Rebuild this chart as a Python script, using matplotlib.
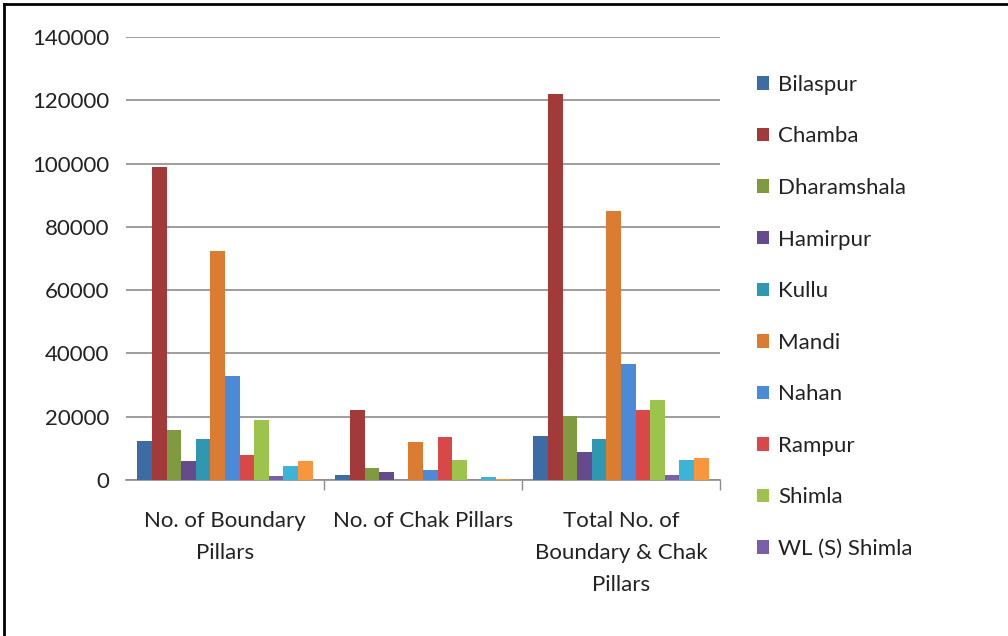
import matplotlib
matplotlib.use("Agg")
import matplotlib.pyplot as plt
import numpy as np
from matplotlib.lines import Line2D

plt.rcParams['font.family'] = ['Lato', 'DejaVu Sans']

categories = ["No. of Boundary\nPillars", "No. of Chak Pillars", "Total No. of\nBoundary & Chak\nPillars"]
circles = ["Bilaspur", "Chamba", "Dharamshala", "Hamirpur", "Kullu", "Mandi",
           "Nahan", "Rampur", "Shimla", "WL (S) Shimla", "Series 11", "Series 12"]
bilaspur = [12200, 1500, 14000]
chamba = [98800, 22200, 121900]
dharamshala = [15900, 3700, 20100]
hamirpur = [5900, 2400, 9000]
kullu = [12900, 0, 12900]
mandi = [72500, 12000, 84900]
nahan = [32900, 3300, 36600]
rampur = [8000, 13600, 22200]
shimla = [19000, 6400, 25200]
wl_s_shimla = [1400, 0, 1700]
series_11 = [4400, 1000, 6400]
series_12 = [5900, 300, 6900]
values = [bilaspur, chamba, dharamshala, hamirpur, kullu, mandi, nahan,
          rampur, shimla, wl_s_shimla, series_11, series_12]
yticks = [0, 20000, 40000, 60000, 80000, 100000, 120000, 140000]

colors = ["#3D6BA3", "#A33A3A", "#7F9A40", "#654B8D", "#2F98B0", "#DA7D32",
          "#4A8AD6", "#D84848", "#9CC44C", "#7B5EA8", "#3CB4D8", "#F7963C"]

W, H = 1008, 636
fig = plt.figure(figsize=(W / 100, H / 100), dpi=100)
ax = fig.add_axes([126 / W, (H - 480) / H, (720 - 126) / W, (480 - 37) / H])

n = len(values)
bw = 0.0737
x = np.arange(len(categories))
bars = []
for i, (vals, c) in enumerate(zip(values, colors)):
    off = (i - (n - 1) / 2) * bw
    b = ax.bar(x + off, vals, width=bw, color=c, label=circles[i], zorder=3)
    bars.append(b)

ax.set_xlim(-0.5, 2.5)
ax.set_ylim(0, 140000)
ax.set_yticks(yticks)
ax.set_yticklabels([str(v) for v in yticks], fontsize=16, color="#222222")
ax.tick_params(axis='y', length=0, pad=12)
ax.yaxis.grid(True, color="#8c8c8c", linewidth=1.2, zorder=0)
ax.set_axisbelow(True)

ax.set_xticks(x)
ax.set_xticklabels(categories, fontsize=16, color="#222222", linespacing=1.75)
ax.tick_params(axis='x', which='major', length=0, pad=22)
ax.set_xticks([0.5, 1.5, 2.5], minor=True)
ax.tick_params(axis='x', which='minor', length=7, color="#8c8c8c", width=1)

for s in ['top', 'right', 'left']:
    ax.spines[s].set_visible(False)
ax.spines['bottom'].set_color("#8c8c8c")
ax.spines['bottom'].set_linewidth(1.2)

handles = [b[0] for b in bars[:10]]
leg = fig.legend(handles, circles[:10], loc='upper left',
                 bbox_to_anchor=(748 / W, 1 - 66 / H), frameon=False,
                 fontsize=16, handlelength=0.55, handleheight=0.55,
                 handletextpad=0.4, labelspacing=1.42, borderaxespad=0)
for t in leg.get_texts():
    t.set_color("#222222")

fig.add_artist(Line2D([4 / W, 4 / W], [0, 1 - 4 / H], transform=fig.transFigure,
                      color='black', linewidth=2))
fig.add_artist(Line2D([4 / W, 1], [1 - 4 / H, 1 - 4 / H], transform=fig.transFigure,
                      color='black', linewidth=2))

fig.savefig("out.png", dpi=100)
